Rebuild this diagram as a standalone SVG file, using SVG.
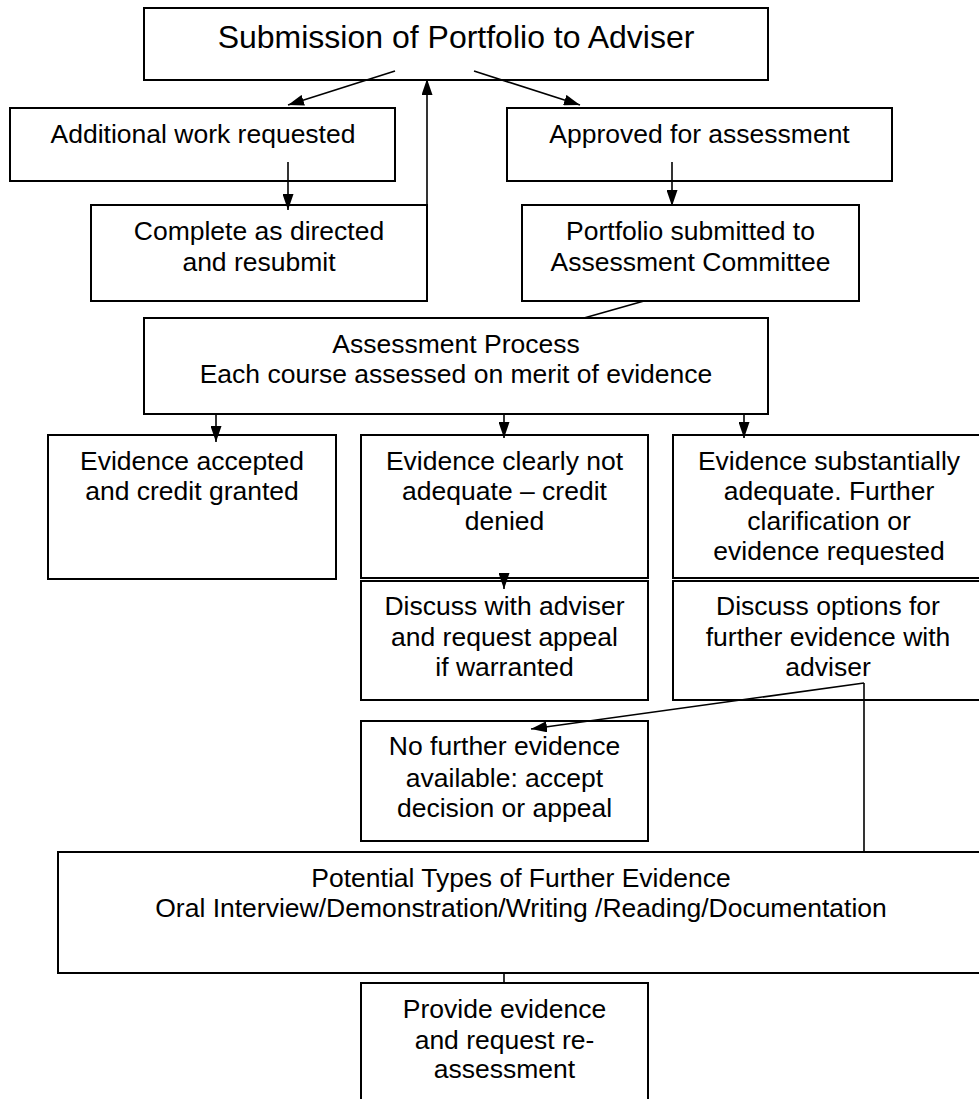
<svg xmlns="http://www.w3.org/2000/svg" width="979" height="1099" viewBox="0 0 979 1099">
<defs>
<marker id="ah" markerUnits="userSpaceOnUse" markerWidth="16" markerHeight="11" refX="16" refY="5.5" orient="auto">
<path d="M0,0 L16,5.5 L0,11 z" fill="#000"/>
</marker>
<style>
.box{fill:#fff;stroke:#000;stroke-width:2}
.t{font-family:"Liberation Sans",Arial,sans-serif;font-size:26.5px;fill:#000;text-anchor:middle}
.title{font-size:32px}
.c{fill:none;stroke:#000;stroke-width:1.6}
.a{marker-end:url(#ah)}
</style>
</defs>
<rect width="979" height="1099" fill="#fff"/>
<g id="n-submission"><rect class="box" x="144" y="8" width="624" height="72"/><text class="t title" x="456" y="48">Submission of Portfolio to Adviser</text></g>
<g id="n-additional"><rect class="box" x="10" y="108" width="385" height="73"/><text class="t" x="203" y="143">Additional work requested</text></g>
<g id="n-approved"><rect class="box" x="507" y="108" width="385" height="73"/><text class="t" x="699.5" y="143">Approved for assessment</text></g>
<g id="n-complete"><rect class="box" x="91" y="205" width="336" height="96"/><text class="t" x="259" y="240">Complete as directed</text><text class="t" x="259" y="271">and resubmit</text></g>
<g id="n-portfolio"><rect class="box" x="522" y="205" width="337" height="96"/><text class="t" x="690.5" y="240">Portfolio submitted to</text><text class="t" x="690.5" y="271">Assessment Committee</text></g>
<g id="n-assessment"><rect class="box" x="144" y="318" width="624" height="96"/><text class="t" x="456" y="353">Assessment Process</text><text class="t" x="456" y="383">Each course assessed on merit of evidence</text></g>
<g id="n-accepted"><rect class="box" x="48" y="435" width="288" height="144"/><text class="t" x="192" y="470">Evidence accepted</text><text class="t" x="192" y="500">and credit granted</text></g>
<g id="n-denied"><rect class="box" x="361" y="435" width="287" height="143"/><text class="t" x="504.5" y="470">Evidence clearly not</text><text class="t" x="504.5" y="500">adequate – credit</text><text class="t" x="504.5" y="530">denied</text></g>
<g id="n-substantial"><rect class="box" x="673" y="435" width="320" height="143"/><text class="t" x="829" y="470">Evidence substantially</text><text class="t" x="829" y="500">adequate. Further</text><text class="t" x="829" y="530">clarification or</text><text class="t" x="829" y="560">evidence requested</text></g>
<g id="n-discuss-appeal"><rect class="box" x="361" y="581" width="287" height="119"/><text class="t" x="504.5" y="615">Discuss with adviser</text><text class="t" x="504.5" y="646">and request appeal</text><text class="t" x="504.5" y="676">if warranted</text></g>
<g id="n-discuss-options"><rect class="box" x="673" y="581" width="320" height="119"/><text class="t" x="828" y="615">Discuss options for</text><text class="t" x="828" y="646">further evidence with</text><text class="t" x="828" y="676">adviser</text></g>
<g id="n-nofurther"><rect class="box" x="361" y="721" width="287" height="120"/><text class="t" x="504.5" y="755">No further evidence</text><text class="t" x="504.5" y="787">available: accept</text><text class="t" x="504.5" y="817">decision or appeal</text></g>
<g id="n-types"><rect class="box" x="58" y="852" width="940" height="121"/><text class="t" x="521" y="887">Potential Types of Further Evidence</text><text class="t" x="521" y="917">Oral Interview/Demonstration/Writing /Reading/Documentation</text></g>
<g id="n-provide"><rect class="box" x="361" y="983" width="287" height="130"/><text class="t" x="504.5" y="1018">Provide evidence</text><text class="t" x="504.5" y="1049">and request re-</text><text class="t" x="504.5" y="1078">assessment</text></g>
<g id="connectors">
<line class="c a" x1="395" y1="71" x2="288" y2="105"/>
<line class="c a" x1="474" y1="71" x2="580" y2="105"/>
<line class="c a" x1="427" y1="205" x2="427" y2="79"/>
<line class="c a" x1="288" y1="162" x2="288" y2="210"/>
<line class="c a" x1="672" y1="162" x2="672" y2="206"/>
<line class="c" x1="644" y1="301" x2="584" y2="318"/>
<line class="c a" x1="216" y1="414" x2="216" y2="442"/>
<line class="c a" x1="504" y1="414" x2="504" y2="438"/>
<line class="c a" x1="744" y1="414" x2="744" y2="438"/>
<line class="c a" x1="504" y1="574" x2="504" y2="589"/>
<line class="c a" x1="864" y1="683" x2="531" y2="729"/>
<line class="c" x1="864" y1="683" x2="864" y2="852"/>
<line class="c" x1="504" y1="973" x2="504" y2="983"/>
</g>
</svg>
